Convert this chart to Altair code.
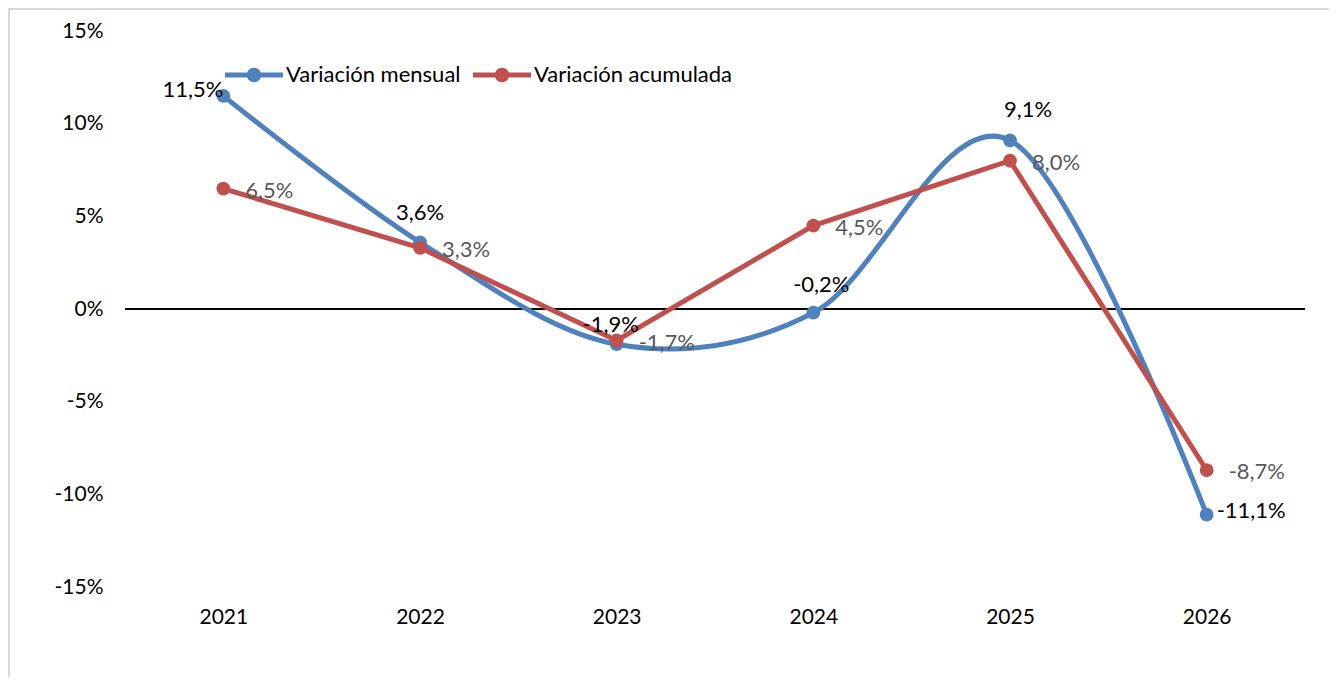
import altair as alt
import pandas as pd

years = ["2021", "2022", "2023", "2024", "2025", "2026"]
series_names = ["Variación mensual", "Variación acumulada"]
mensual = [11.5, 3.6, -1.9, -0.2, 9.1, -11.1]
acumulada = [6.5, 3.3, -1.7, 4.5, 8.0, -8.7]
y_ticks = [-15, -10, -5, 0, 5, 10, 15]

colors = ["#4F81BD", "#C0504D"]
FONT = "Lato"


def fmt(v):
    return f"{v:.1f}".replace(".", ",") + "%"


rows = []
for name, vals in zip(series_names, [mensual, acumulada]):
    for yr, v in zip(years, vals):
        rows.append({"year": yr, "series": name, "value": v, "label": fmt(v)})
df = pd.DataFrame(rows)

color_scale = alt.Scale(domain=series_names, range=colors)

x_enc = alt.X(
    "year:O",
    sort=years,
    scale=alt.Scale(type="point", padding=0.5),
    axis=alt.Axis(title=None, labelAngle=0, domain=False, ticks=False, grid=False,
                  labelFontSize=21, labelFont=FONT, labelColor="#000000", labelPadding=19),
)
y_enc = alt.Y(
    "value:Q",
    scale=alt.Scale(domain=[-15, 15], nice=False, zero=False),
    axis=alt.Axis(title=None, values=y_ticks, labelExpr="datum.value + '%'", domain=False,
                  ticks=False, grid=False, labelFontSize=21, labelFont=FONT,
                  labelColor="#000000", labelPadding=22),
)

base = alt.Chart(df).encode(x=x_enc, y=y_enc)

frame = alt.Chart(alt.Data(values=[{"a": 1}])).mark_rect(
    fill=None, stroke="#d9d9d9", strokeWidth=2
).encode(x=alt.value(-116), x2=alt.value(1500), y=alt.value(-22), y2=alt.value(900))

zero = alt.Chart(alt.Data(values=[{"z": 0}])).mark_rule(color="#000000", strokeWidth=2).encode(
    y=alt.datum(0)
)

legend_path = ("M-1,-0.085 L1,-0.085 L1,0.085 L-1,0.085 Z "
               "M-0.25,0 A0.25,0.25 0 1,1 0.25,0 A0.25,0.25 0 1,1 -0.25,0 Z")

blue_line = base.transform_filter(alt.datum.series == series_names[0]).mark_line(
    interpolate="cardinal", tension=0, strokeWidth=5, color=colors[0]
)

red_line = base.transform_filter(alt.datum.series == series_names[1]).mark_line(
    strokeWidth=5, color=colors[1]
)

legend = alt.Legend(
    title=None, orient="none", legendX=100, legendY=15, direction="horizontal",
    symbolType=legend_path, symbolSize=3364, symbolStrokeWidth=0,
    labelFont=FONT, labelFontSize=22, labelColor="#000000", labelOffset=3,
    labelLimit=0, columnPadding=12, padding=0,
)

blue_pts = base.transform_filter(alt.datum.series == series_names[0]).mark_circle(
    size=190, opacity=1
).encode(fill=alt.Fill("series:N", scale=color_scale, legend=legend))

red_pts = base.transform_filter(alt.datum.series == series_names[1]).mark_circle(
    size=190, opacity=1
).encode(fill=alt.Fill("series:N", scale=color_scale, legend=legend))

# label placement styles for the monthly series (align, dx, dy)
blue_label_style = {
    "2021": ("right", 0, -6),
    "2022": ("center", 0, -29),
    "2023": ("center", -6, -19),
    "2024": ("center", 8, -28),
    "2025": ("center", 18, -30),
    "2026": ("left", 10, -4),
}

blue_labels = []
for yr in years:
    al, dx, dy = blue_label_style[yr]
    blue_labels.append(
        base.transform_filter(
            (alt.datum.series == series_names[0]) & (alt.datum.year == yr)
        ).mark_text(align=al, baseline="middle", dx=dx, dy=dy, font=FONT, fontSize=22,
                    color="#000000").encode(text="label:N")
    )

red_labels = base.transform_filter(alt.datum.series == series_names[1]).mark_text(
    align="left", baseline="middle", dx=22, dy=2, font=FONT, fontSize=22, color="#595959"
).encode(text="label:N")

chart = alt.layer(
    frame, zero, blue_line, blue_pts, red_line, red_pts, *blue_labels, red_labels
).properties(
    width=1180, height=556,
    autosize=alt.AutoSizeParams(type="none"),
    padding={"left": 117, "top": 23, "right": 24, "bottom": 90},
    background="#ffffff",
).configure_view(stroke=None)

chart.save("out.html", embed_options={"renderer": "svg", "actions": False})
